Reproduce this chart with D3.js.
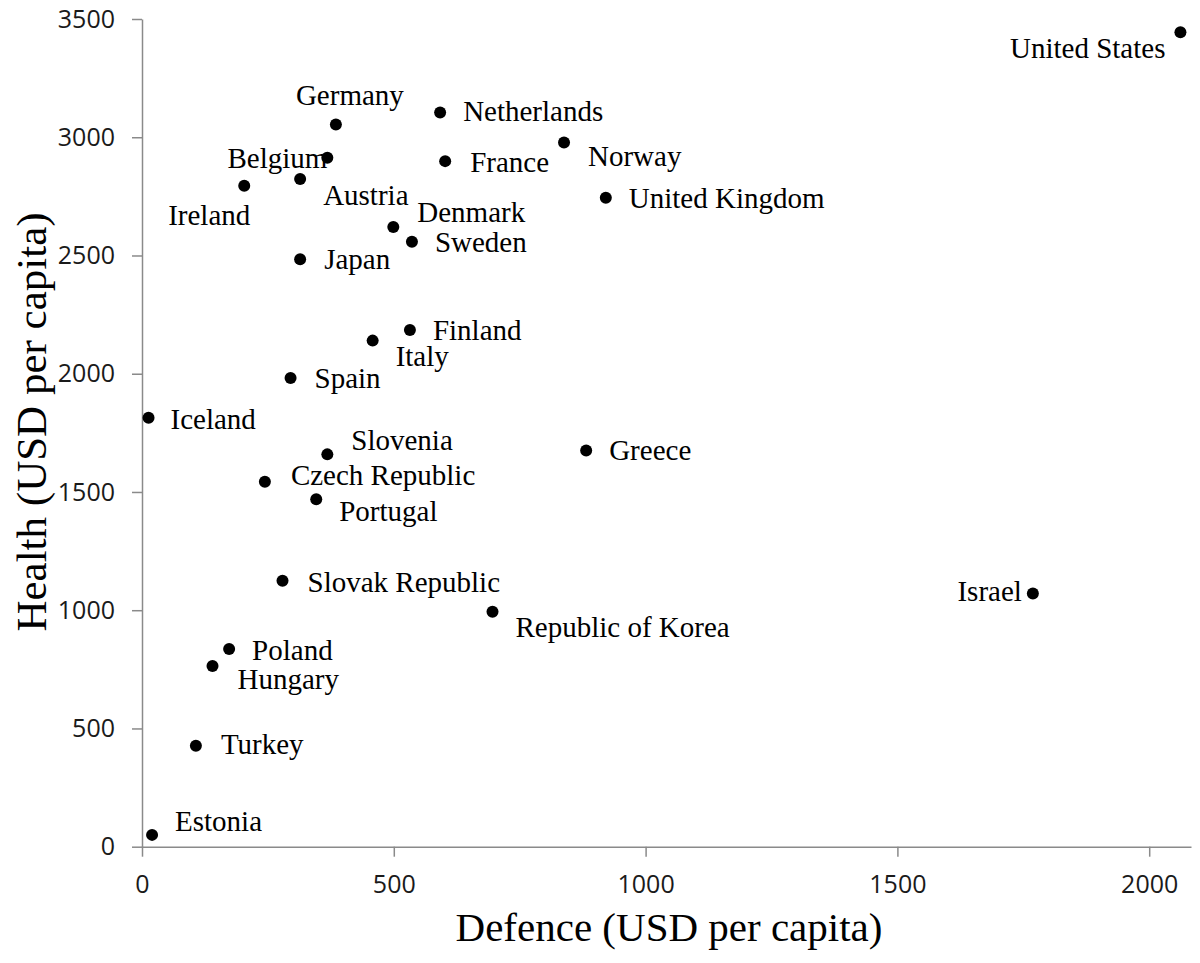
<!DOCTYPE html>
<html>
<head>
<meta charset="utf-8">
<script src="https://cdn.jsdelivr.net/npm/d3@7"></script>
<style>
  html, body { margin: 0; padding: 0; background: #fff; }
  svg { display: block; }
</style>
</head>
<body>
<svg id="chart" width="1200" height="963"></svg>
<script>
// ---- Data ----
const countries = ["United States","Germany","Netherlands","Norway","Belgium","France","Austria","Ireland","United Kingdom","Denmark","Sweden","Japan","Finland","Italy","Spain","Iceland","Slovenia","Greece","Czech Republic","Portugal","Slovak Republic","Israel","Republic of Korea","Poland","Hungary","Turkey","Estonia"];
const defence = [2062,385,592,838,368,602,314,203,921,499,536,314,532,458,295,13,368,882,244,346,279,1769,696,173,140,107,20];
const health  = [3444,3054,3105,2978,2913,2899,2823,2795,2744,2620,2558,2484,2185,2140,1982,1814,1659,1675,1543,1469,1125,1071,994,836,764,427,50];
const xTicks = [0,500,1000,1500,2000];
const yTicks = [0,500,1000,1500,2000,2500,3000,3500];
const xTitle = "Defence (USD per capita)";
const yTitle = "Health (USD per capita)";

// ---- Label layout (anchor, dx, dy in px relative to the marker) ----
const labelPlacement = {
  "United States": ["end", -15, 26],
  "Germany": ["middle", 14, -19],
  "Belgium": ["end", 0, 10],
  "Ireland": ["middle", -35, 39],
  "Israel": ["end", -11, 8],
  "Netherlands": ["start", 23, 9],
  "Norway": ["start", 24, 24],
  "France": ["start", 25, 11],
  "Austria": ["start", 23, 26],
  "United Kingdom": ["start", 23, 10],
  "Denmark": ["start", 24, -5],
  "Sweden": ["start", 23, 10],
  "Japan": ["start", 24, 10],
  "Finland": ["start", 23, 10],
  "Italy": ["start", 23, 25],
  "Spain": ["start", 24, 10],
  "Iceland": ["start", 22, 11],
  "Slovenia": ["start", 24, -4],
  "Greece": ["start", 23, 9],
  "Czech Republic": ["start", 26, 3],
  "Portugal": ["start", 23, 22],
  "Slovak Republic": ["start", 25, 11],
  "Republic of Korea": ["start", 23, 25],
  "Poland": ["start", 23, 11],
  "Hungary": ["start", 25, 23],
  "Turkey": ["start", 25, 8],
  "Estonia": ["start", 23, -4]
};

const points = countries.map((c, i) => ({ name: c, x: defence[i], y: health[i] }));

const svg = d3.select("#chart");
const plotLeft = 142, plotRight = 1191, plotTop = 19, plotBottom = 846.7;

const x = d3.scaleLinear().domain([0, 2083]).range([plotLeft, plotRight]);
const y = d3.scaleLinear().domain([0, 3500]).range([plotBottom, plotTop]);

const axisColor = "#8a8a8a";
const tickFont = "'Open Sans', 'Liberation Sans', sans-serif";
const serif = "'Liberation Serif', 'Times New Roman', serif";

// X axis
const gx = svg.append("g")
  .attr("transform", `translate(0,${plotBottom})`)
  .call(d3.axisBottom(x).tickValues(xTicks).tickSize(10).tickSizeOuter(0).tickFormat(d3.format("d")));
gx.select(".domain").attr("stroke", axisColor).attr("stroke-width", 1.5);
gx.selectAll(".tick line").attr("stroke", axisColor).attr("stroke-width", 1.5);
gx.selectAll(".tick text")
  .attr("y", 46).attr("dy", null)
  .attr("fill", "#1a1a1a")
  .style("font-family", tickFont).style("font-size", "25px");

// Y axis
const gy = svg.append("g")
  .attr("transform", `translate(${plotLeft},0)`)
  .call(d3.axisLeft(y).tickValues(yTicks).tickSize(10).tickSizeOuter(0).tickFormat(d3.format("d")));
gy.select(".domain").attr("stroke", axisColor).attr("stroke-width", 1.5);
gy.selectAll(".tick line").attr("stroke", axisColor).attr("stroke-width", 1.5);
gy.selectAll(".tick text")
  .attr("x", -27).attr("dy", "0.33em")
  .attr("fill", "#1a1a1a")
  .style("font-family", tickFont).style("font-size", "25px");

// Points
svg.append("g").selectAll("circle")
  .data(points).join("circle")
  .attr("cx", d => x(d.x)).attr("cy", d => y(d.y))
  .attr("r", 6).attr("fill", "#000");

// Labels
svg.append("g").selectAll("text")
  .data(points).join("text")
  .attr("x", d => x(d.x) + labelPlacement[d.name][1])
  .attr("y", d => y(d.y) + labelPlacement[d.name][2])
  .attr("text-anchor", d => labelPlacement[d.name][0])
  .style("font-family", serif).style("font-size", "29px")
  .attr("fill", "#000")
  .text(d => d.name);

// Axis titles
svg.append("text")
  .attr("x", 669).attr("y", 941)
  .attr("text-anchor", "middle")
  .style("font-family", serif).style("font-size", "41px")
  .attr("fill", "#000")
  .text(xTitle);

svg.append("text")
  .attr("transform", "translate(46,422) rotate(-90)")
  .attr("text-anchor", "middle")
  .style("font-family", serif).style("font-size", "43px")
  .attr("fill", "#000")
  .text(yTitle);
</script>
</body>
</html>
